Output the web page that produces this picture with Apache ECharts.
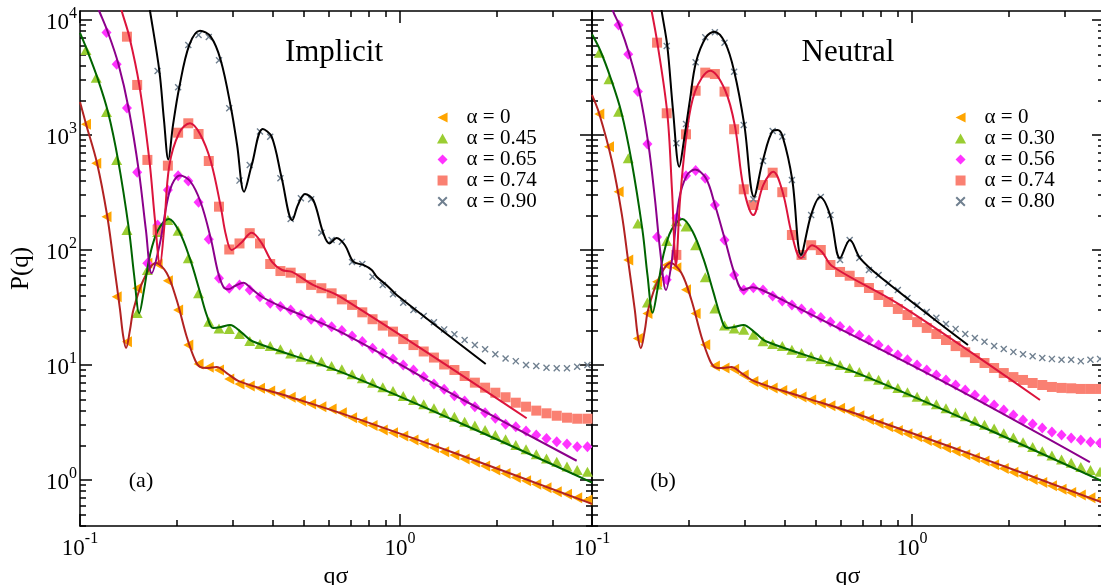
<!DOCTYPE html>
<html><head><meta charset="utf-8">
<script src="https://cdn.jsdelivr.net/npm/echarts@6/dist/echarts.min.js"></script>
<style>html,body{margin:0;padding:0;background:#fff}#c{width:1101px;height:585px}</style>
</head><body><div id="c"></div>
<script>
// ---------- data ----------
// wave-vector grids of the simulation points (q sigma)
const qGridI = [0.1044,0.1124,0.1210,0.1302,0.1402,0.1509,0.1624,0.1748,0.1882,0.2026,0.2180,0.2347,0.2526,0.2719,0.2927,0.3151,0.3392,0.3651,0.3930,0.4230,0.4553,0.4901,0.5276,0.5679,0.6113,0.6580,0.7083,0.7624,0.8207,0.8834,0.9509,1.0235,1.1018,1.1860,1.2766,1.3741,1.4791,1.5922,1.7138,1.8448,1.9857,2.1375,2.3008,2.4766,2.6659,2.8696,3.0888,3.3249,3.5789,3.8524];
const qGridN = [0.1054,0.1130,0.1211,0.1298,0.1391,0.1490,0.1597,0.1712,0.1835,0.1967,0.2108,0.2259,0.2421,0.2595,0.2781,0.2980,0.3194,0.3423,0.3669,0.3932,0.4214,0.4516,0.4841,0.5188,0.5560,0.5959,0.6386,0.6845,0.7336,0.7862,0.8426,0.9031,0.9679,1.0374,1.1119,1.1915,1.2770,1.3687,1.4669,1.5722,1.6849,1.8058,1.9354,2.0743,2.2232,2.3824,2.5534,2.7366,2.9330,3.1435,3.3691,3.6109,3.8695];

// Implicit (a) : simulation points
const impA0 = [1239,567,195,39.3,15.9,46.5,76.6,75.5,54.1,30.1,14.9,10.2,9.55,9.05,7.55,6.84,6.57,6.27,5.94,5.60,5.24,4.89,4.58,4.34,4.14,3.85,3.48,3.21,2.97,2.72,2.58,2.41,2.23,2.08,1.91,1.76,1.65,1.52,1.43,1.32,1.22,1.14,1.05,0.986,0.918,0.857,0.791,0.751,0.702,0.670];
const impA45 = [5483,3148,1585,607,149,28.3,67,143,182,147,84.7,42.0,23.8,20.8,20.6,18.6,16.2,15.2,14.6,13.7,12.6,11.8,11.2,10.7,9.80,9.18,8.30,7.66,7.02,6.40,5.94,5.37,4.96,4.55,4.20,3.85,3.55,3.21,2.97,2.72,2.46,2.26,2.01,1.85,1.67,1.54,1.44,1.31,1.22,1.18];
const impA65 = [null,null,7786,4120,1718,474,76.6,165,333,443,398,260,124,56.8,46.5,49.7,44.9,39.3,34.4,32.2,30.1,27.2,25.0,23.4,21.5,19.9,17.9,16.0,14.0,12.6,11.3,10.0,9.05,7.91,6.84,6.15,5.41,4.87,4.34,3.85,3.44,3.05,2.91,2.67,2.46,2.30,2.15,2.06,1.95,1.95];
const impA74 = [null,null,null,null,7160,2723,607,149,541,1047,1264,1020,594,238,101,114,140,114,75.5,65.6,63.5,56.8,49.7,46.5,42.0,37.2,33.3,28.7,25.0,22.0,19.5,16.8,14.9,13.1,11.6,10.1,9.05,8.02,7.02,6.35,5.74,5.24,4.70,4.34,4.01,3.80,3.62,3.48,3.41,3.41];
const impA90 = [null,null,null,null,null,null,null,3606,null,2600,6067,7413,7112,4467,1706,401,548,1072,966,420,186,282,276,141,122,118,78.7,75.5,58.6,49.7,41.2,34.8,30.1,26.7,23.5,20.4,18.5,16.5,14.9,13.7,12.4,11.4,10.8,10.0,9.80,9.48,9.36,9.36,9.67,10.0];

// Implicit (a) : theory curves [q, P]
const impL0 = [[0.1,1936],[0.1044,1247],[0.1130,571],[0.1215,201.5],[0.1271,81.9],[0.1334,30.1],[0.1363,18.2],[0.1393,14.05],[0.1433,20.2],[0.1468,30.1],[0.1578,54.8],[0.1727,77.1],[0.1866,63.1],[0.2005,36.7],[0.2155,17.6],[0.2288,11.05],[0.2371,9.62],[0.2489,9.42],[0.2674,9.62],[0.2873,8.51],[0.3162,7.16],[0.4532,5.27],[0.6494,3.83],[1.540,1.65],[3.981,0.62]];
const impL45 = [[0.1,7710],[0.1052,5483],[0.1134,3131],[0.1223,1585],[0.1315,607],[0.1423,149],[0.1476,60.6],[0.1532,28.2],[0.1585,44.9],[0.1655,90.6],[0.1754,149],[0.1897,186],[0.2039,146],[0.2207,83.6],[0.2371,43.1],[0.2494,26.7],[0.2605,21.0],[0.2758,21.4],[0.2943,22.3],[0.3208,19.0],[0.3472,16.0],[0.6494,8.75],[1.540,3.13],[3.981,0.95]];
const impL65 = [[0.1122,14000],[0.1148,11970],[0.1223,7786],[0.1319,4120],[0.1418,1718],[0.1529,474],[0.1607,149],[0.1675,62.7],[0.1778,115],[0.1911,333],[0.2054,444],[0.2207,398],[0.2383,260],[0.2566,124],[0.2698,64.4],[0.2805,48.0],[0.2905,45.5],[0.3050,48.6],[0.3238,52.0],[0.3441,45.8],[0.3707,39.0],[0.4217,32.6],[0.6494,19.5],[1.577,4.96],[3.565,1.47]];
const impL74 = [[0.1324,14900],[0.1350,11970],[0.1426,7160],[0.1532,2723],[0.1647,607],[0.1715,182],[0.1778,74.1],[0.1830,149],[0.1901,541],[0.2043,1047],[0.2207,1264],[0.2371,1020],[0.2561,594],[0.2753,238],[0.2858,135],[0.2979,100],[0.3185,115],[0.3441,141],[0.3700,114],[0.3981,78.7],[0.4279,67],[0.4597,64.4],[0.5346,49.7],[0.6494,39.3],[2.488,3.44]];
const impL90 = [[0.1632,14900],[0.1655,11970],[0.1770,3606],[0.1830,1349],[0.1888,612],[0.1953,1222],[0.2043,2600],[0.2196,6067],[0.2371,8070],[0.2561,7160],[0.2753,4467],[0.2965,1706],[0.3097,818],[0.3256,321],[0.3441,548],[0.3726,1127],[0.3972,966],[0.4270,420],[0.4607,182],[0.4797,246],[0.5047,307],[0.5357,272],[0.5744,143],[0.6013,114],[0.6339,127],[0.6730,110],[0.7145,79.1],[0.7677,74.1],[0.8160,67],[0.8455,58.6],[0.9192,48.0],[0.9765,40.6],[1.853,10.2]];

// Neutral (b) : simulation points
const neuA0 = [1524,791,321,82,17,28,53,74,70,45,28,15,9.8,9.4,9.2,8.2,7.2,6.7,6.3,6.0,5.65,5.28,4.95,4.65,4.42,4.2,3.95,3.62,3.35,3.12,2.90,2.70,2.53,2.38,2.21,2.06,1.91,1.78,1.66,1.56,1.46,1.36,1.26,1.17,1.09,1.01,0.95,0.89,0.83,0.78,0.74,0.70,0.67];
const neuA30 = [5200,3048,1595,627,170,35,50,120,178,160,110,58,31,22,20.8,20.2,18.3,16.1,15.2,14.6,13.6,12.7,11.9,11.3,10.8,10.0,9.4,8.7,8.0,7.45,6.8,6.3,5.8,5.3,4.9,4.55,4.2,3.87,3.58,3.27,3.02,2.80,2.55,2.34,2.13,1.94,1.78,1.63,1.51,1.41,1.30,1.22,1.18];
const neuA56 = [null,null,9050,5036,2383,836,130,55,190,443,490,420,246,122,60.6,44.9,47,44.9,39.8,36.0,33.3,30.7,28.3,25.9,23.6,21.6,19.8,18.1,16.5,14.9,13.5,12.2,11.1,10.0,9.05,8.19,7.41,6.70,6.06,5.48,4.96,4.49,4.06,3.67,3.32,3.07,2.83,2.61,2.46,2.32,2.23,2.14,2.10];
const neuA74 = [null,null,null,null,null,null,6350,1545,90.6,1014,2426,3485,3388,2383,1122,337,246,367,470,318,135,90.6,110,100,74,64.4,59.7,52.6,46.7,40.6,35.3,30.7,27.2,23.6,21.0,18.6,16.5,14.6,12.9,11.5,10.4,9.42,8.51,7.85,7.41,6.97,6.70,6.44,6.32,6.27,6.19,6.19,6.19];
const neuA80 = [null,null,null,null,null,null,null,5943,848,1247,4285,7072,7820,6350,3546,1222,276,594,1084,966,406,90.6,201,289,201,81.9,122,85,67,60.6,51.6,44.9,38.3,33.3,28.9,25.7,22.7,20.6,18.6,17.2,15.9,14.6,13.8,13.0,12.4,11.9,11.5,11.3,11.1,11.1,10.8,11.1,11.3];

// Neutral (b) : theory curves [q, P]
const neuL0 = [[0.1,2228],[0.1054,1524],[0.1153,600],[0.1239,205],[0.1296,82],[0.1361,30],[0.1390,18],[0.1421,14.0],[0.1462,20],[0.1497,30],[0.1610,55],[0.1762,77],[0.1903,63],[0.2045,36.7],[0.2198,17.6],[0.2334,11.0],[0.2418,9.6],[0.2539,9.4],[0.2727,9.6],[0.2930,8.5],[0.3225,7.2],[0.4623,5.2],[0.6624,3.8],[1.571,1.63],[3.981,0.63]];
const neuL30 = [[0.1,7500],[0.1062,5400],[0.1145,3100],[0.1235,1580],[0.1328,600],[0.1437,150],[0.1491,60],[0.1547,28.5],[0.1601,45],[0.1672,91],[0.1772,150],[0.1916,186],[0.2059,146],[0.2229,84],[0.2395,43],[0.2519,26.7],[0.2631,21.0],[0.2786,21.4],[0.2972,22.3],[0.3240,19.0],[0.3507,16.0],[0.6559,8.75],[1.555,3.13],[3.981,0.96]];
const neuL56 = [[0.1138,14900],[0.1165,11800],[0.1217,9050],[0.1308,5036],[0.1405,2383],[0.1500,836],[0.1574,272],[0.1632,100],[0.1703,44.9],[0.1778,81.9],[0.1870,272],[0.1977,443],[0.2099,500],[0.2270,420],[0.2423,246],[0.2605,122],[0.2799,60.6],[0.2965,44.9],[0.3162,47.5],[0.3398,44.9],[0.4217,33.3],[1.223,7.41],[3.597,1.43]];
const neuL74 = [[0.1507,14900],[0.1537,11800],[0.1600,6350],[0.1719,1545],[0.1778,333],[0.1830,74],[0.1884,272],[0.1977,1035],[0.2099,2383],[0.2339,3623],[0.2605,2460],[0.2799,1181],[0.2971,355],[0.3192,201],[0.3429,367],[0.3686,480],[0.3944,318],[0.4217,135],[0.4499,85],[0.4870,110],[0.5233,96],[0.5623,72.6],[0.917,33.3],[2.512,4.96]];
const neuL80 = [[0.1633,14900],[0.1652,11800],[0.1719,5943],[0.1791,1649],[0.1874,530],[0.1939,906],[0.2023,2013],[0.2113,4285],[0.2270,7072],[0.2410,7910],[0.2605,6350],[0.2784,3546],[0.2992,1222],[0.3208,290],[0.3416,594],[0.3672,1084],[0.3796,1103],[0.3944,966],[0.4226,406],[0.4499,90.6],[0.4836,201],[0.5160,289],[0.5546,201],[0.5957,85],[0.6397,122],[0.6879,85],[0.7943,58.6],[1.496,14.9]];

// legends / labels / ticks
const impNames = ['α = 0','α = 0.45','α = 0.65','α = 0.74','α = 0.90'];
const neuNames = ['α = 0','α = 0.30','α = 0.56','α = 0.74','α = 0.80'];
const panelTitles = ['Implicit','Neutral'];
const panelTags = ['(a)','(b)'];
const xRange = [0.1, 3.981];
const yRange = [0.398, 11970];
const xMajor = [0.1, 1];
const xMinor = [0.2,0.3,0.4,0.5,0.6,0.7,0.8,0.9,2,3];
const yMajor = [1,10,100,1000,10000];
const yMinor = [0.4,0.5,0.6,0.7,0.8,0.9,2,3,4,5,6,7,8,9,20,30,40,50,60,70,80,90,200,300,400,500,600,700,800,900,2000,3000,4000,5000,6000,7000,8000,9000];

// ---------- styling ----------
const FONT = "'Liberation Serif','DejaVu Serif',serif";
const markerColors = ['#FFA500','#9ACD32','#FF33FF','#FA8072','#708090'];
const lineColors = ['#B22222','#006400','#8B008B','#DC143C','#000000'];
const symbols = [
  'path://M0,5L10,0L10,10Z',
  'path://M5,0L10,9L0,9Z',
  'path://M5,0L10,5L5,10L0,5Z',
  'path://M0,0L10,0L10,10L0,10Z',
  'path://M0,1.4L1.4,0L5,3.6L8.6,0L10,1.4L6.4,5L10,8.6L8.6,10L5,6.4L1.4,10L0,8.6L3.6,5Z'
];
const symSizes = [[10,11],[11,10],[10,11],[10,10],[7,7]];

const L = Math.log10;
const X0 = L(xRange[0]), X1 = L(xRange[1]), Y0 = L(yRange[0]), Y1 = L(yRange[1]);
const RICH = {
  b: {fontFamily: FONT, fontSize: 23, color: '#000', lineHeight: 29, verticalAlign: 'bottom'},
  s: {fontFamily: FONT, fontSize: 16, color: '#000', verticalAlign: 'top'}
};
const fmt = v => '{b|10}{s|' + Math.round(v) + '}';
const AX = {color: '#000', width: 1.5};

function xAxisDef(g, pos, vals, len, line, labels, name) {
  return {
    gridIndex: g, type: 'value', position: pos, min: X0, max: X1,
    axisLine: {show: line, onZero: false, lineStyle: AX},
    axisTick: {show: true, inside: true, length: len, customValues: vals.map(L), lineStyle: AX},
    axisLabel: labels ? {show: true, customValues: vals.map(L), formatter: fmt, rich: RICH, margin: 5} : {show: false},
    splitLine: {show: false},
    name: name || '', nameLocation: 'middle', nameGap: 33,
    nameTextStyle: {fontFamily: FONT, fontSize: 24, color: '#000'},
    silent: true
  };
}
function yAxisDef(g, pos, vals, len, line, labels, name) {
  return {
    gridIndex: g, type: 'value', position: pos, min: Y0, max: Y1,
    axisLine: {show: line, onZero: false, lineStyle: AX},
    axisTick: {show: true, inside: true, length: len, customValues: vals.map(L), lineStyle: AX},
    axisLabel: labels ? {show: true, customValues: vals.map(L), formatter: fmt, rich: RICH, margin: 3} : {show: false},
    splitLine: {show: false},
    name: name || '', nameLocation: 'middle', nameGap: 46, nameRotate: 90,
    nameTextStyle: {fontFamily: FONT, fontSize: 25, color: '#000'},
    silent: true
  };
}

const xAxes = [], yAxes = [];
[0,1].forEach(g => {
  xAxes.push(xAxisDef(g, 'bottom', xMajor, 12, true, true, 'qσ'));
  xAxes.push(xAxisDef(g, 'bottom', xMinor, 6, false, false));
  xAxes.push(xAxisDef(g, 'top', xMajor, 12, true, false));
  xAxes.push(xAxisDef(g, 'top', xMinor, 6, false, false));
  yAxes.push(yAxisDef(g, 'left', yMajor, 12, true, g === 0, g === 0 ? 'P(q)' : ''));
  yAxes.push(yAxisDef(g, 'left', yMinor, 6, false, false));
  yAxes.push(yAxisDef(g, 'right', yMajor, 12, true, false));
  yAxes.push(yAxisDef(g, 'right', yMinor, 6, false, false));
});

function pts(q, p) {
  const out = [];
  for (let i = 0; i < q.length; i++) if (p[i] != null) out.push([L(q[i]), L(p[i])]);
  return out;
}
const curve = arr => arr.map(d => [L(d[0]), L(d[1])]);

const panels = [
  {names: impNames, q: qGridI, marks: [impA0, impA45, impA65, impA74, impA90], lines: [impL0, impL45, impL65, impL74, impL90]},
  {names: neuNames, q: qGridN, marks: [neuA0, neuA30, neuA56, neuA74, neuA80], lines: [neuL0, neuL30, neuL56, neuL74, neuL80]}
];

const series = [];
panels.forEach((p, g) => {
  for (let k = 0; k < 5; k++) {
    series.push({
      type: 'scatter', name: p.names[k], xAxisIndex: g * 4, yAxisIndex: g * 4,
      data: pts(p.q, p.marks[k]), symbol: symbols[k], symbolSize: symSizes[k],
      itemStyle: {color: markerColors[k], opacity: 1}, z: 2, silent: true, animation: false
    });
  }
  for (let k = 0; k < 5; k++) {
    series.push({
      type: 'line', name: 'fit' + g + k, xAxisIndex: g * 4, yAxisIndex: g * 4,
      data: curve(p.lines[k]), showSymbol: false, symbol: 'none', smooth: 0.35,
      lineStyle: {color: lineColors[k], width: 2}, z: 3, silent: true, animation: false
    });
  }
});

const legends = panels.map((p, g) => ({
  orient: 'vertical', left: g === 0 ? 432 : 950, top: 102,
  itemWidth: 38, itemHeight: 10, itemGap: 0, selectedMode: false,
  textStyle: {fontFamily: FONT, fontSize: 21, color: '#000', lineHeight: 20},
  data: p.names.map((n, k) => ({name: n, icon: symbols[k]}))
}));

const chart = echarts.init(document.getElementById('c'), null, {renderer: 'canvas'});
chart.setOption({
  backgroundColor: '#fff',
  animation: false,
  grid: [
    {left: 80, top: 11, width: 512, height: 515, containLabel: false, outerBoundsMode: 'none'},
    {left: 592, top: 11, width: 512, height: 515, containLabel: false, outerBoundsMode: 'none'}
  ],
  xAxis: xAxes, yAxis: yAxes,
  legend: legends,
  series: series,
  graphic: [
    {type: 'text', style: {text: panelTitles[0], x: 334, y: 53, font: '31px ' + FONT, fill: '#000', align: 'center', verticalAlign: 'middle'}},
    {type: 'text', style: {text: panelTitles[1], x: 848, y: 53, font: '31px ' + FONT, fill: '#000', align: 'center', verticalAlign: 'middle'}},
    {type: 'text', style: {text: panelTags[0], x: 141, y: 481, font: '22px ' + FONT, fill: '#000', align: 'center', verticalAlign: 'middle'}},
    {type: 'text', style: {text: panelTags[1], x: 663, y: 481, font: '22px ' + FONT, fill: '#000', align: 'center', verticalAlign: 'middle'}}
  ]
});
</script></body></html>
